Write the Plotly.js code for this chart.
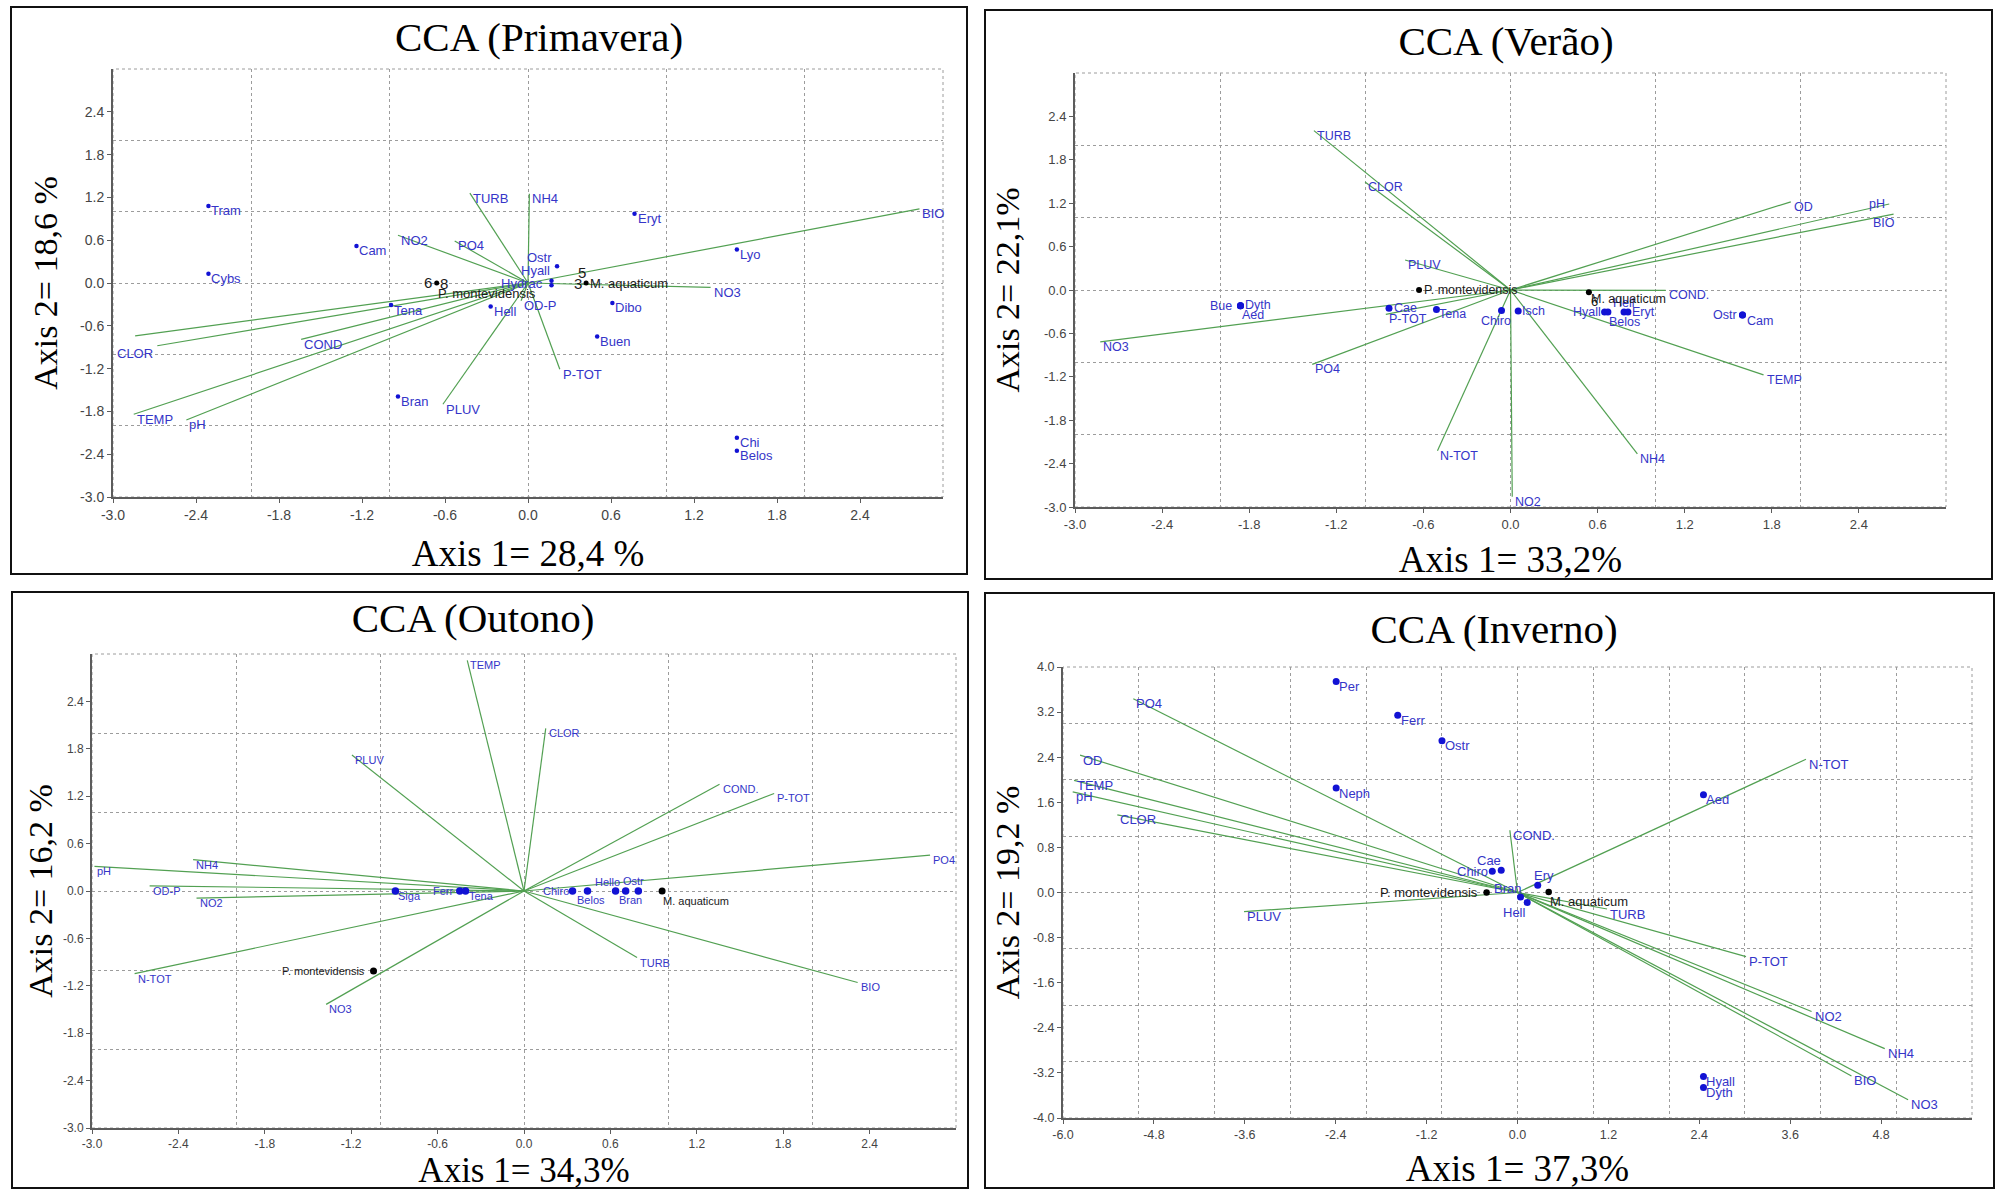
<!DOCTYPE html>
<html>
<head>
<meta charset="utf-8">
<script src="https://cdn.plot.ly/plotly-3.0.1.min.js"></script>
<style>
html,body{margin:0;padding:0;background:#fff;width:1998px;height:1194px;overflow:hidden;}
.panel{position:absolute;box-sizing:border-box;border:2px solid #111;background:#fff;overflow:hidden;}
</style>
</head>
<body>
<div id="p1" class="panel"></div>
<div id="p2" class="panel"></div>
<div id="p3" class="panel"></div>
<div id="p4" class="panel"></div>
<script>
// ================= DATA =================
// Tick labels
const ticks3 = ['-3.0','-2.4','-1.8','-1.2','-0.6','0.0','0.6','1.2','1.8','2.4'];
const ticks6x = ['-6.0','-4.8','-3.6','-2.4','-1.2','0.0','1.2','2.4','3.6','4.8'];
const ticks4y = ['-4.0','-3.2','-2.4','-1.6','-0.8','0.0','0.8','1.6','2.4','3.2','4.0'];

// ---- CCA (Primavera) ----
const priTitle = 'CCA (Primavera)';
const priAxis1 = 'Axis 1= 28,4 %';
const priAxis2 = 'Axis 2= 18,6 %';
const priRangeX = [-3, 3];
const priRangeY = [-3, 3];
const priEnvNames = ['BIO','NO3','NH4','TURB','NO2','PO4','COND','TEMP','pH','CLOR','','PLUV','P-TOT','OD-P'];
const priEnvX = [2.83, 1.32, 0.01, -0.42, -0.94, -0.53, -1.64, -2.85, -2.47, -2.84, -2.68, -0.615, 0.23, -0.05];
const priEnvY = [1.04, -0.06, 1.25, 1.26, 0.67, 0.59, -0.79, -1.84, -1.92, -0.74, -0.88, -1.70, -1.21, -0.25];
const priSpNames = ['Tram','Cybs','Cam','Tena','Bran','Hell','Ostr','Hyall','Hydrac','Eryt','Lyo','Dibo','Buen','Chi','Belos'];
const priSpX = [-2.31, -2.31, -1.24, -0.99, -0.94, -0.27, 0.21, 0.17, 0.17, 0.77, 1.51, 0.61, 0.50, 1.51, 1.51];
const priSpY = [1.08, 0.13, 0.52, -0.31, -1.59, -0.33, 0.235, 0.03, -0.03, 0.97, 0.47, -0.28, -0.75, -2.17, -2.35];
const priMacNames = ['P. montevidensis','M. aquaticum'];
const priMacX = [-0.66, 0.42];
const priMacY = [0.0, 0.0];
const priSiteNames = ['6','8','3','5'];
const priSiteX = [-0.66, -0.66, 0.42, 0.42];
const priSiteY = [0.0, 0.0, 0.0, 0.0];

// ---- CCA (Verão) ----
const verTitle = 'CCA (Verão)';
const verAxis1 = 'Axis 1= 33,2%';
const verAxis2 = 'Axis 2= 22,1%';
const verRangeX = [-3, 3];
const verRangeY = [-3, 3];
const verEnvNames = ['TURB','CLOR','PLUV','NO3','PO4','P-TOT','N-TOT','NO2','NH4','TEMP','COND.','OD','pH','BIO'];
const verEnvX = [-1.354, -1.002, -0.726, -2.826, -1.366, -0.859, -0.503, 0.012, 0.874, 1.743, 1.069, 1.931, 2.609, 2.639];
const verEnvY = [2.203, 1.493, 0.415, -0.716, -1.028, -0.336, -2.224, -2.858, -2.265, -1.174, -0.006, 1.219, 1.189, 1.050];
const verSpNames = ['Bue','Dyth','Aed','Cae','Tena','Chiro','Isch','Hyall','Belos','Hell','Eryt','Ostr','Cam'];
const verSpX = [-1.86, -1.86, -1.86, -0.837, -0.51, -0.062, 0.053, 0.648, 0.671, 0.782, 0.809, 1.598, 1.598];
const verSpY = [-0.218, -0.218, -0.218, -0.254, -0.268, -0.282, -0.291, -0.305, -0.305, -0.305, -0.305, -0.346, -0.346];
const verMacNames = ['P. montevidensis','M. aquaticum'];
const verMacX = [-0.63, 0.54];
const verMacY = [0.0, -0.03];
const verSiteNames = ['6'];
const verSiteX = [0.54];
const verSiteY = [-0.03];

// ---- CCA (Outono) ----
const outTitle = 'CCA (Outono)';
const outAxis1 = 'Axis 1= 34,3%';
const outAxis2 = 'Axis 2= 16,2 %';
const outRangeX = [-3, 3];
const outRangeY = [-3, 3];
const outEnvNames = ['TEMP','PLUV','pH','NH4','OD-P','NO2','N-TOT','NO3','CLOR','COND.','P-TOT','PO4','TURB','BIO'];
const outEnvX = [-0.394, -1.195, -2.983, -2.298, -2.600, -2.274, -2.704, -1.374, 0.151, 1.358, 1.737, 2.820, 0.785, 2.317];
const outEnvY = [2.919, 1.721, 0.312, 0.396, 0.066, -0.090, -1.045, -1.435, 2.059, 1.351, 1.235, 0.454, -0.842, -1.158];
const outSpNames = ['Siga','Ferr','Tena','Chiro','Belos','Hello','Bran','Ostr'];
const outSpX = [-0.893, -0.446, -0.406, 0.337, 0.441, 0.636, 0.706, 0.794];
const outSpY = [0.0, 0.0, 0.0, 0.0, 0.0, 0.0, 0.0, 0.0];
const outMacNames = ['P. montevidensis','M. aquaticum'];
const outMacX = [-1.045, 0.959];
const outMacY = [-1.013, 0.0];
const outSiteNames = [];
const outSiteX = [];
const outSiteY = [];

// ---- CCA (Inverno) ----
const invTitle = 'CCA (Inverno)';
const invAxis1 = 'Axis 1= 37,3%';
const invAxis2 = 'Axis 2= 19,2 %';
const invRangeX = [-6, 6];
const invRangeY = [-4, 4];
const invEnvNames = ['PO4','OD','TEMP','pH','CLOR','PLUV','COND.','N-TOT','TURB','P-TOT','NO2','NH4','BIO','NO3'];
const invEnvX = [-5.072, -5.775, -5.854, -5.872, -5.283, -3.610, -0.101, 3.808, 1.182, 3.017, 3.882, 4.848, 4.409, 5.156];
const invEnvY = [3.438, 2.438, 1.988, 1.784, 1.376, -0.340, 1.105, 2.363, -0.293, -1.137, -2.110, -2.770, -3.254, -3.676];
const invSpNames = ['Per','Ferr','Ostr','Neph','Chiro','Cae','Bran','Hell','Ery','Aed','Hyall','Dyth'];
const invSpX = [-2.394, -1.581, -0.997, -2.394, -0.333, -0.215, 0.040, 0.128, 0.267, 2.455, 2.455, 2.455];
const invSpY = [3.745, 3.145, 2.690, 1.853, 0.378, 0.395, -0.078, -0.177, 0.129, 1.736, -3.266, -3.457];
const invMacNames = ['P. montevidensis','M. aquaticum'];
const invMacX = [-0.408, 0.412];
const invMacY = [0.0, 0.01];
const invSiteNames = [];
const invSiteX = [];
const invSiteY = [];

// ================= STYLE / LAYOUT =================
const GREEN = '#52a052';
const BLUE_TXT = '#3535c8';
const BLUE_PT = '#1212d4';
const TICK_COL = '#444444';
const GRID_COL = '#9c9c9c';
const AXIS_COL = '#5c5c5c';
const SERIF = 'Liberation Serif, Times New Roman, serif';
const SANS = 'Liberation Sans, Arial, sans-serif';
const DEF_PLACE = {xanchor: 'left', yanchor: 'middle', xshift: 3, yshift: -5};
const EXTRA_B = 40; // plot canvas extends below the framed box (clipped), so axis titles are not squeezed

const L = (dx, dy) => ({xanchor: 'right', xshift: dx, yshift: dy});
const R = (dx, dy) => ({xanchor: 'left', xshift: dx, yshift: dy});
const C = (dx, dy) => ({xanchor: 'center', xshift: dx, yshift: dy});

const panels = [
  {
    id: 'p1', box: [10, 6, 958, 569], plot: [112.7, 943, 68.6, 497], titleAt: [539, 37],
    title: priTitle, ax1: priAxis1, ax2: priAxis2, rx: priRangeX, ry: priRangeY,
    xt: ticks3, yt: ticks3, tickSize: 14, labelSize: 13, spSize: 4.5, macSize: 5, siteSize: 15,
    xStand: 18, yStand: 12, ax1Size: 37,
    envNames: priEnvNames, envX: priEnvX, envY: priEnvY,
    spNames: priSpNames, spX: priSpX, spY: priSpY,
    macNames: priMacNames, macX: priMacX, macY: priMacY,
    siteNames: priSiteNames, siteX: priSiteX, siteY: priSiteY,
    envPlace: {'CLOR': R(-18, -18)},
    spPlace: {'Ostr': L(-5, 9), 'Hyall': L(-2, 10), 'Hydrac': L(-9, 2)},
    macPlace: {'P. montevidensis': R(1, -10), 'M. aquaticum': R(4, 0)},
    sitePlace: {'6': L(-5, 1), '8': R(3, 0), '3': L(-4, 0), '5': L(0, 11)}
  },
  {
    id: 'p2', box: [984, 9, 1009, 571], plot: [1075, 1946, 72.6, 506.7], titleAt: [1506, 41],
    title: verTitle, ax1: verAxis1, ax2: verAxis2, rx: verRangeX, ry: verRangeY,
    xt: ticks3, yt: ticks3, tickSize: 13, labelSize: 12.5, spSize: 7, macSize: 6, siteSize: 13,
    xStand: 16, yStand: 14, ax1Size: 37,
    envNames: verEnvNames, envX: verEnvX, envY: verEnvY,
    spNames: verSpNames, spX: verSpX, spY: verSpY,
    macNames: verMacNames, macX: verMacX, macY: verMacY,
    siteNames: verSiteNames, siteX: verSiteX, siteY: verSiteY,
    envPlace: {'pH': L(-4, 0), 'BIO': L(1, -9)},
    spPlace: {'Bue': L(-8, 0), 'Dyth': R(5, 1), 'Aed': R(2, -9), 'Cae': R(5, 0), 'Chiro': C(-6, -11),
              'Isch': R(4, 0), 'Hyall': L(-4, 0), 'Belos': R(1, -10), 'Hell': C(0, 9), 'Eryt': R(4, 0),
              'Ostr': L(-5, 0), 'Cam': R(5, -6)},
    macPlace: {'P. montevidensis': R(5, 0), 'M. aquaticum': R(2, -7)},
    sitePlace: {'6': R(2, -9)}
  },
  {
    id: 'p3', box: [11, 591, 958, 598], plot: [92.3, 956, 654, 1128.3], titleAt: [473, 618],
    title: outTitle, ax1: outAxis1, ax2: outAxis2, rx: outRangeX, ry: outRangeY,
    xt: ticks3, yt: ticks3, tickSize: 12, labelSize: 11, spSize: 7.5, macSize: 7, siteSize: 12,
    xStand: 0, yStand: 0, ax1Size: 35,
    envNames: outEnvNames, envX: outEnvX, envY: outEnvY,
    spNames: outSpNames, spX: outSpX, spY: outSpY,
    macNames: outMacNames, macX: outMacX, macY: outMacY,
    siteNames: outSiteNames, siteX: outSiteX, siteY: outSiteY,
    envPlace: {},
    spPlace: {'Ferr': L(-6, 0), 'Chiro': L(-4, 0), 'Belos': C(3, -9), 'Hello': C(-8, 9), 'Bran': C(5, -9), 'Ostr': C(-5, 10)},
    macPlace: {'P. montevidensis': L(-9, 0), 'M. aquaticum': R(1, -10)},
    sitePlace: {}
  },
  {
    id: 'p4', box: [984, 592, 1011, 597], plot: [1062.6, 1971.7, 666.5, 1118], titleAt: [1494, 629],
    title: invTitle, ax1: invAxis1, ax2: invAxis2, rx: invRangeX, ry: invRangeY,
    xt: ticks6x, yt: ticks4y, tickSize: 12.5, labelSize: 13, spSize: 7, macSize: 6.5, siteSize: 13,
    xStand: 14, yStand: 3, ax1Size: 37,
    envNames: invEnvNames, envX: invEnvX, envY: invEnvY,
    spNames: invSpNames, spX: invSpX, spY: invSpY,
    macNames: invMacNames, macX: invMacX, macY: invMacY,
    siteNames: invSiteNames, siteX: invSiteX, siteY: invSiteY,
    envPlace: {},
    spPlace: {'Chiro': L(-4, 0), 'Cae': C(-12, 10), 'Bran': L(0, 8), 'Hell': C(-13, -10), 'Ery': C(6, 10)},
    macPlace: {'P. montevidensis': L(-9, 0), 'M. aquaticum': R(1, -10)},
    sitePlace: {}
  }
];

function ann(text, x, y, place, font) {
  const p = Object.assign({}, DEF_PLACE, place || {});
  return {x: x, y: y, xref: 'x', yref: 'y', text: text, showarrow: false, font: font,
          borderpad: 0, borderwidth: 0, xanchor: p.xanchor, yanchor: p.yanchor || 'middle',
          xshift: p.xshift, yshift: p.yshift};
}

function drawPanel(cfg) {
  const [bl, bt, bw, bh] = cfg.box;
  const el = document.getElementById(cfg.id);
  el.style.left = bl + 'px'; el.style.top = bt + 'px';
  el.style.width = bw + 'px'; el.style.height = bh + 'px';
  const iw = bw - 4, ih = bh - 4, il = bl + 2, it = bt + 2;
  const ph = ih + EXTRA_B;
  const [px0, px1, py0, py1] = cfg.plot;
  const margin = {l: px0 - il, r: il + iw - px1, t: py0 - it, b: it + ph - py1, pad: 0};

  // environmental vectors
  const lx = [], ly = [];
  cfg.envX.forEach((v, i) => { lx.push(0, v, null); ly.push(0, cfg.envY[i], null); });
  const traces = [
    {type: 'scatter', mode: 'lines', x: lx, y: ly, line: {color: GREEN, width: 1.2},
     hoverinfo: 'skip', showlegend: false, name: 'vectors'},
    {type: 'scatter', mode: 'markers', x: cfg.spX, y: cfg.spY, text: cfg.spNames,
     marker: {color: BLUE_PT, size: cfg.spSize}, showlegend: false, name: 'species'},
    {type: 'scatter', mode: 'markers', x: cfg.macX, y: cfg.macY, text: cfg.macNames,
     marker: {color: '#000000', size: cfg.macSize}, showlegend: false, name: 'macrophytes'},
    {type: 'scatter', mode: 'markers', x: [], y: [], xaxis: 'x2', yaxis: 'y2', showlegend: false, hoverinfo: 'skip'}
  ];

  const blueFont = {family: SANS, size: cfg.labelSize, color: BLUE_TXT};
  const blackFont = {family: SANS, size: cfg.labelSize, color: '#1a1a1a'};
  const siteFont = {family: SANS, size: cfg.siteSize, color: '#1a1a1a'};
  const annotations = [];
  cfg.envNames.forEach((n, i) => { if (n) annotations.push(ann(n, cfg.envX[i], cfg.envY[i], cfg.envPlace[n], blueFont)); });
  cfg.spNames.forEach((n, i) => annotations.push(ann(n, cfg.spX[i], cfg.spY[i], cfg.spPlace[n], blueFont)));
  cfg.macNames.forEach((n, i) => annotations.push(ann(n, cfg.macX[i], cfg.macY[i], cfg.macPlace[n], blackFont)));
  cfg.siteNames.forEach((n, i) => annotations.push(ann(n, cfg.siteX[i], cfg.siteY[i], cfg.sitePlace[n], siteFont)));

  const gridAxis = (range) => ({
    range: range, showgrid: true, gridcolor: GRID_COL, griddash: 'dot', gridwidth: 1,
    tick0: 0, dtick: 1, showticklabels: false, ticks: '', zeroline: false, showline: false, fixedrange: true
  });
  const tickAxis = (range, labels, title, tsize, stand) => ({
    range: range, tickmode: 'array', tickvals: labels.map(Number), ticktext: labels,
    ticks: 'outside', ticklen: 4, tickwidth: 1, tickcolor: AXIS_COL,
    showline: true, linecolor: AXIS_COL, linewidth: 2, showgrid: false, zeroline: false, fixedrange: true,
    tickfont: {family: SANS, size: cfg.tickSize, color: TICK_COL},
    title: {text: title, font: {family: SERIF, size: tsize, color: '#000'}, standoff: stand}
  });

  const layout = {
    width: iw, height: ph, margin: margin, autosize: false,
    paper_bgcolor: '#ffffff', plot_bgcolor: '#ffffff', showlegend: false,
    font: {family: SANS},
    title: {text: cfg.title, font: {family: SERIF, size: 41, color: '#000'},
            xref: 'container', yref: 'container',
            x: (cfg.titleAt[0] - il) / iw, y: 1 - (cfg.titleAt[1] - it) / ph,
            xanchor: 'center', yanchor: 'middle'},
    xaxis: gridAxis(cfg.rx),
    yaxis: gridAxis(cfg.ry),
    xaxis2: Object.assign(tickAxis(cfg.rx, cfg.xt, cfg.ax1, cfg.ax1Size, cfg.xStand), {overlaying: 'x', anchor: 'y2', side: 'bottom'}),
    yaxis2: Object.assign(tickAxis(cfg.ry, cfg.yt, cfg.ax2, 34, cfg.yStand), {overlaying: 'y', anchor: 'x2', side: 'left'}),
    shapes: [{type: 'rect', xref: 'x domain', yref: 'y domain', x0: 0, x1: 1, y0: 0, y1: 1,
              line: {color: GRID_COL, width: 1, dash: 'dot'}, layer: 'below'}],
    annotations: annotations
  };
  Plotly.newPlot(el, traces, layout, {staticPlot: true, displayModeBar: false});
}

panels.forEach(drawPanel);
</script>
</body>
</html>
